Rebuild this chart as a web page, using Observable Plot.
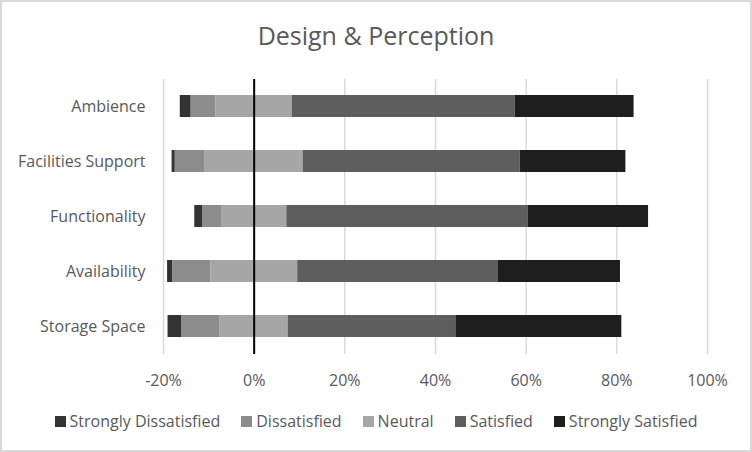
<!DOCTYPE html>
<html>
<head>
<meta charset="utf-8">
<script src="https://cdn.jsdelivr.net/npm/d3@7"></script>
<script src="https://cdn.jsdelivr.net/npm/@observablehq/plot@0.6"></script>
<style>
  html, body { margin: 0; padding: 0; background: #fff; }
  #chart { position: relative; width: 752px; height: 452px; background: #fff; font-family: "Open Sans", sans-serif; color: #595959; overflow: hidden; }
  #border { position: absolute; left: 0; top: 0; width: 752px; height: 452px; box-sizing: border-box; border: 2px solid #d9d9d9; pointer-events: none; }
  #title { position: absolute; left: 0; top: 18px; width: 752px; text-align: center; font-size: 25px; line-height: 34px; color: #595959; }
  #plot { position: absolute; left: 0; top: 0; }
  #legend { position: absolute; left: 0; top: 410px; width: 752px; height: 22px; display: flex; justify-content: center; align-items: center; gap: 21px; font-size: 16px; line-height: 22px; color: #595959; }
  .item { display: flex; align-items: center; white-space: nowrap; }
  .sw { width: 11px; height: 11px; margin-right: 4px; }
</style>
</head>
<body>
<div id="chart">
  <div id="plot"></div>
  <div id="title">Design &amp; Perception</div>
  <div id="legend"></div>
  <div id="border"></div>
</div>
<script>
const categories = ["Ambience", "Facilities Support", "Functionality", "Availability", "Storage Space"];
const levels = ["Strongly Dissatisfied", "Dissatisfied", "Neutral", "Satisfied", "Strongly Satisfied"];
const stronglyDissatisfied = [2.4, 0.7, 1.7, 1.1, 3.1];
const dissatisfied = [5.5, 6.6, 4.2, 8.4, 8.4];
const neutral = [16.8, 21.6, 14.4, 19.2, 15.0];
const satisfied = [49.2, 47.9, 53.3, 44.3, 37.0];
const stronglySatisfied = [26.2, 23.3, 26.5, 26.9, 36.6];
const xTicks = [-20, 0, 20, 40, 60, 80, 100];

const palette = ["#333333", "#8c8c8c", "#a6a6a6", "#5e5e5e", "#1e1e1e"];

const series = [stronglyDissatisfied, dissatisfied, neutral, satisfied, stronglySatisfied];
const rows = [];
categories.forEach((c, i) => {
  let start = -(series[0][i] + series[1][i] + series[2][i] / 2);
  levels.forEach((l, j) => {
    const v = series[j][i];
    rows.push({category: c, level: l, x1: start, x2: start + v});
    start += v;
  });
});

const chart = Plot.plot({
  width: 752,
  height: 400,
  marginTop: 79,
  marginBottom: 46,
  marginLeft: 163,
  marginRight: 45,
  style: {fontFamily: "Open Sans", fontSize: "16px", color: "#595959", background: "transparent"},
  x: {domain: [-20, 100], axis: null},
  y: {domain: categories, paddingInner: 0.6, paddingOuter: 0.3},
  color: {domain: levels, range: palette},
  marks: [
    Plot.ruleX(xTicks, {x: d => d, stroke: "#d9d9d9", strokeWidth: 1.5}),
    Plot.barX(rows, {y: "category", x1: "x1", x2: "x2", fill: "level"}),
    Plot.ruleX([0], {stroke: "#000000", strokeWidth: 2}),
    Plot.text(xTicks, {x: d => d, text: d => d + "%", frameAnchor: "bottom", dy: 26, lineAnchor: "middle", fill: "#595959", fontSize: 16}),
    Plot.axisY({tickSize: 0, tickPadding: 18, fontSize: 16, label: null, fill: "#595959"})
  ]
});
document.getElementById("plot").appendChild(chart);

const legend = document.getElementById("legend");
levels.forEach((l, j) => {
  const item = document.createElement("div");
  item.className = "item";
  const sw = document.createElement("div");
  sw.className = "sw";
  sw.style.background = palette[j];
  const t = document.createElement("span");
  t.textContent = l;
  item.appendChild(sw);
  item.appendChild(t);
  legend.appendChild(item);
});
</script>
</body>
</html>
